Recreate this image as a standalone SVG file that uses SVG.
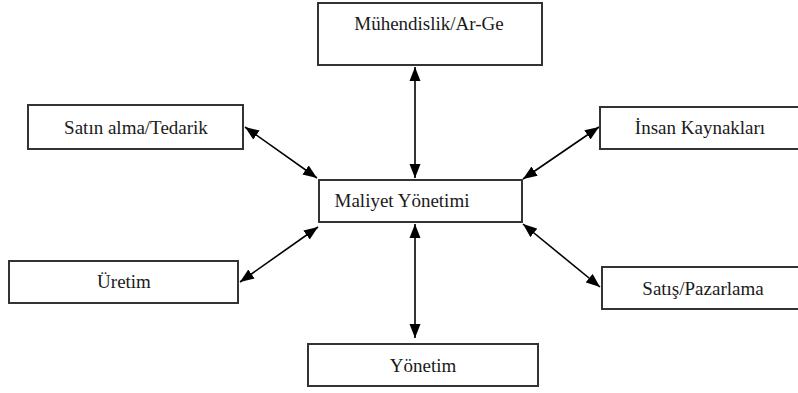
<svg xmlns="http://www.w3.org/2000/svg" width="798" height="393" viewBox="0 0 798 393">
  <style>
    .box { fill: #ffffff; stroke: #333333; stroke-width: 2; }
    .lbl { font-family: "Liberation Serif", "Times New Roman", serif; font-size: 19px; fill: #1a1a1a; text-anchor: middle; }
    .link { stroke: #000000; stroke-width: 1.6; fill: none; marker-start: url(#tip); marker-end: url(#tip); }
  </style>
  <defs>
    <marker id="tip" markerUnits="userSpaceOnUse" markerWidth="15" markerHeight="12" refX="14" refY="6" orient="auto-start-reverse">
      <path d="M0,0.5 L14,6 L0,11.5 z" fill="#000000"/>
    </marker>
  </defs>
  <rect width="798" height="393" fill="#ffffff"/>

  <g id="connectors">
    <line class="link" x1="415" y1="67" x2="415" y2="178"/>
    <line class="link" x1="415" y1="224" x2="415" y2="338"/>
    <line class="link" x1="245" y1="127" x2="317" y2="178"/>
    <line class="link" x1="240" y1="282" x2="318" y2="227"/>
    <line class="link" x1="599" y1="127" x2="523" y2="179"/>
    <line class="link" x1="523" y1="224" x2="600" y2="287"/>
  </g>

  <g id="node-muhendislik">
    <rect class="box" x="318" y="3" width="224" height="62"/>
    <text class="lbl" x="429" y="30">Mühendislik/Ar-Ge</text>
  </g>
  <g id="node-satinalma">
    <rect class="box" x="28" y="105" width="215" height="44"/>
    <text class="lbl" x="136" y="134">Satın alma/Tedarik</text>
  </g>
  <g id="node-insan">
    <rect class="box" x="600" y="107" width="200" height="42"/>
    <text class="lbl" x="700" y="134">İnsan Kaynakları</text>
  </g>
  <g id="node-maliyet">
    <rect class="box" x="319" y="180" width="203" height="42"/>
    <text class="lbl" x="402" y="207">Maliyet Yönetimi</text>
  </g>
  <g id="node-uretim">
    <rect class="box" x="9" y="261" width="229" height="42"/>
    <text class="lbl" x="124" y="288">Üretim</text>
  </g>
  <g id="node-satis">
    <rect class="box" x="602" y="267" width="198" height="42"/>
    <text class="lbl" x="703" y="295">Satış/Pazarlama</text>
  </g>
  <g id="node-yonetim">
    <rect class="box" x="308" y="344" width="230" height="42"/>
    <text class="lbl" x="423" y="372">Yönetim</text>
  </g>
</svg>
